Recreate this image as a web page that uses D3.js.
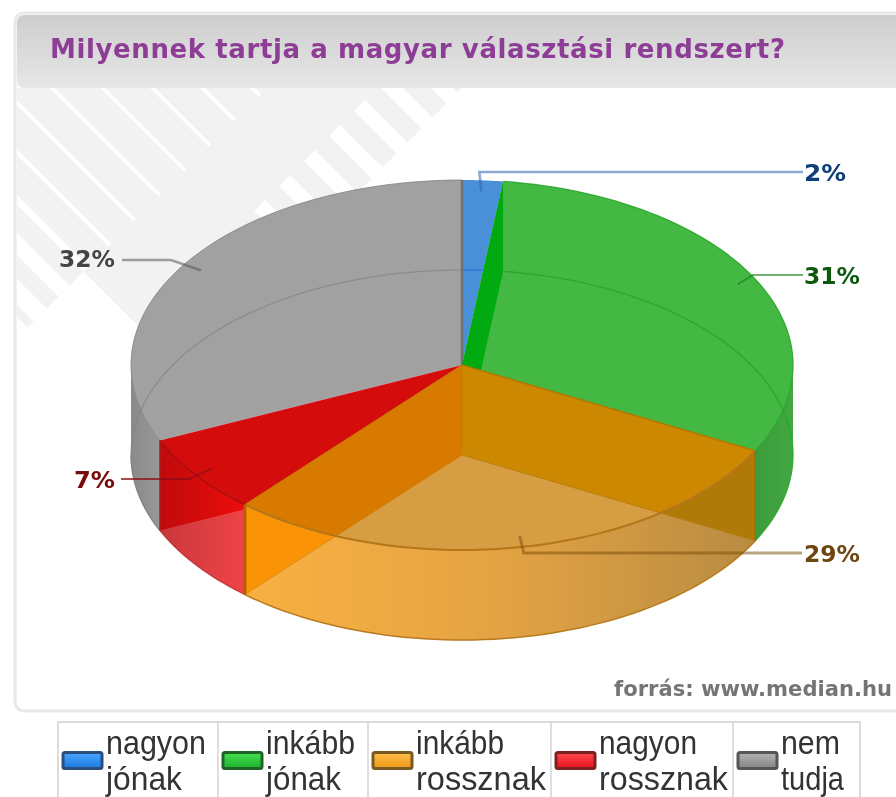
<!DOCTYPE html>
<html><head><meta charset="utf-8">
<script src="https://cdn.jsdelivr.net/npm/d3@7"></script>
<style>html,body{margin:0;padding:0;background:#fff;overflow:hidden}svg{display:block;filter:blur(.6px)}</style>
</head><body><svg id="c" width="896" height="797"></svg>
<script>
const titleText = "Milyennek tartja a magyar választási rendszert?";
const sourceText = "forrás: www.median.hu";
const categories = ["nagyon jónak","inkább jónak","inkább rossznak","nagyon rossznak","nem tudja"];
const values = [2,31,29,7,32];
const legendLines = [["nagyon","jónak"],["inkább","jónak"],["inkább","rossznak"],["nagyon","rossznak"],["nem","tudja"]];
const legendWidths = [[100,76],[89,75],[88,130],[98,129],[59,63]];
const topColors = ["#4a90d9","#43b943","#d69d42","#d40c0c","#9c9c9c"];
const labelColors = ["#0e3f7a","#0b5a0b","#6e4510","#7a0a0a","#444444"];
const swatchStroke = ["#2a4f7c","#1f6426","#7a5a24","#7c2024","#555555"];
const stripeOffsets = [-288,-238,-188,-138,-88,-38,12,62,112,162];
const stripeWidths  = [26,22,10,6,5,5,5,5,5,5];
const blockOffsets = [3,53,103,153,203,253,303,353,403];
const legendEdges = [58,218,368,551,733,860];
const labelPos=[[804,172],[804,275],[804,553],[74,479],[59,258]];
const labelWidths=[42,56,56,41,56];
const leaderStart=[803,803,802,121,122];
const elbowDx=[-2,15,4,-23,-30];
const leaderColors=["#2a64b0","#1c8a1c","#7a4c08","#8c0c18","#555555"];
const leaderOpacity=[.55,.85,.5,.75,.55];
const leaderWidths=[2.6,1.6,3,1.8,2.6];

const svg = d3.select("#c");
const defs = svg.append("defs");
function hGrad(id,stops,x1,x2){
  const g=defs.append("linearGradient").attr("id",id).attr("gradientUnits","userSpaceOnUse")
    .attr("x1",x1).attr("x2",x2).attr("y1",0).attr("y2",0);
  stops.forEach((c,i)=>g.append("stop").attr("offset",i/(stops.length-1)).attr("stop-color",c));
}
function vGrad(id,c0,c1){
  const g=defs.append("linearGradient").attr("id",id).attr("x1",0).attr("x2",0).attr("y1",0).attr("y2",1);
  g.append("stop").attr("offset",0).attr("stop-color",c0);
  g.append("stop").attr("offset",1).attr("stop-color",c1);
}
// Panel
svg.append("rect").attr("x",15).attr("y",13).attr("width",936).attr("height",698).attr("rx",9)
  .attr("fill","#fff").attr("stroke","#e8e8e8").attr("stroke-width",3);
vGrad("hdr","#cdcdcd","#e7e7e7");
defs.append("clipPath").attr("id","hdrClip").append("rect").attr("x",17).attr("y",15).attr("width",900).attr("height",73).attr("rx",7);
svg.append("rect").attr("x",17).attr("y",15).attr("width",900).attr("height",73).attr("fill","url(#hdr)").attr("clip-path","url(#hdrClip)");
// Background pattern, in diagonal coordinates
const diag=(s,c)=>[(s+c)/2,(s-c)/2];
const poly=pts=>"M"+pts.map(p=>p.join(",")).join("L")+"Z";
defs.append("clipPath").attr("id","bodyClip").append("rect").attr("x",17).attr("y",88).attr("width",900).attr("height",622);
const bg=svg.append("g").attr("clip-path","url(#bodyClip)");
bg.append("path").attr("fill","#f2f2f2").attr("d",poly([diag(0,-300),diag(355,-300),diag(355,-188),diag(550,-188),diag(550,500),diag(0,500)]));
bg.selectAll("path.thin").data(stripeOffsets).join("path").attr("class","thin").attr("fill","#fff")
  .attr("d",(c,i)=>poly([diag(0,c),diag(355,c),diag(355,c+stripeWidths[i]),diag(0,c+stripeWidths[i])]));
bg.selectAll("path.block").data(blockOffsets).join("path").attr("class","block").attr("fill","#fff")
  .attr("d",c=>poly([diag(465,c+40),diag(560,c+40),diag(560,c+62),diag(465,c+62)]));

// Title & source
svg.append("text").attr("x",50).attr("y",58).attr("textLength",735).attr("lengthAdjust","spacing")
  .attr("font-family","DejaVu Sans").attr("font-weight","bold").attr("font-size",26).attr("fill","#8e3d96").text(titleText);
svg.append("text").attr("x",614).attr("y",696).attr("textLength",278).attr("lengthAdjust","spacingAndGlyphs")
  .attr("font-family","DejaVu Sans").attr("font-weight","bold").attr("font-size",21).attr("fill","#757575").text(sourceText);

// Pie geometry
const pieGen=d3.pie().sort(null).value(d=>d);
const arcs=pieGen(values);
const xS=d3.scaleLinear().domain([-1,1]).range([131,793]);
const yS=d3.scaleLinear().domain([-1,1]).range([180,550]);
const depth=90;
const P=(a,z,r=1)=>[xS(r*Math.sin(a)),yS(-r*Math.cos(a))+z];
const line=d3.line();
const arcPts=(a0,a1,z)=>d3.range(0,61).map(i=>P(a0+(a1-a0)*i/60,z));
const C=z=>[xS(0),yS(0)+z];
const sector=(a,z)=>line([C(z),...arcPts(a.startAngle,a.endAngle,z),C(z)])+"Z";
const wall=(a0,a1)=>line([...arcPts(a0,a1,0),...arcPts(a1,a0,depth)])+"Z";
const inner=(a)=>line([C(0),P(a,0),P(a,depth),C(depth)])+"Z";
const PI=Math.PI;
const [blue,green,orange,red,gray]=arcs;
const pie=svg.append("g");
const fillP=(d,f,op)=>pie.append("path").attr("d",d).attr("fill",f).attr("fill-opacity",op==null?1:op);
const strokeP=(d,c,w,op)=>pie.append("path").attr("d",d).attr("fill","none").attr("stroke",c).attr("stroke-width",w).attr("stroke-opacity",op==null?1:op);
const arcLine=(a0,a1,z)=>line(arcPts(a0,a1,z));

hGrad("gWall",["#8a8a8a","#9a9a9a"],131,165);
hGrad("gGreen",["#3c9a3c","#42a842"],752,793);
hGrad("rLight",["#c8383c","#f04448"],160,246);
hGrad("rDark",["#c00a0a","#ee0c0c"],160,246);
hGrad("oWall",["#f8b041","#e4a343","#b98c42"],246,752);

// Grey
fillP(wall(3*PI/2,gray.startAngle),"url(#gWall)");
fillP(sector(gray,0),topColors[4],.95);
strokeP(arcLine(gray.startAngle,gray.endAngle,0),"#7f7f7f",1,.8);
strokeP(arcLine(gray.startAngle,gray.endAngle,depth),"#828282",1.2,.7);
strokeP(arcLine(gray.startAngle,3*PI/2,depth),"#7f7f7f",1.2,.8);
// Blue
fillP(sector(blue,0),topColors[0]);
strokeP(arcLine(blue.startAngle,blue.endAngle,depth),"#2f7ad0",1.5);
strokeP(line([C(0),P(0,0)]),"#6a7278",2.5);
// Green
fillP(wall(green.endAngle,PI/2),"url(#gGreen)");
fillP(sector(green,0),topColors[1]);
fillP(inner(green.startAngle),"#00aa10");
strokeP(arcLine(green.startAngle,green.endAngle,depth),"#2aa52a",1.3,.9);
strokeP(arcLine(green.startAngle,green.endAngle,0),"#2aa52a",1.3,.9);
// Red
const redWall=wall(red.startAngle,red.endAngle);
defs.append("clipPath").attr("id","redWallClip").append("path").attr("d",redWall);
fillP(redWall,"url(#rDark)");
fillP(sector(red,depth),"url(#rLight)").attr("clip-path","url(#redWallClip)");
fillP(sector(red,0),topColors[3]);
strokeP(arcLine(red.startAngle,red.endAngle,0),"#a00c10",1.2);
strokeP(line([P(red.endAngle,0),P(red.endAngle,depth)]),"#a02c2c",1.5,.8);
strokeP(arcLine(red.startAngle,red.endAngle,depth),"#b02024",1.2,.6);
// Orange
fillP(wall(orange.startAngle,orange.endAngle),"url(#oWall)");
fillP(sector(orange,0),topColors[2]);
defs.append("clipPath").attr("id","orangeTop").append("path").attr("d",sector(orange,0));
fillP(inner(orange.endAngle),"#fb9306");
fillP(inner(orange.startAngle),"#b07a08");
fillP(inner(orange.endAngle),"#d97a00").attr("clip-path","url(#orangeTop)");
fillP(inner(orange.startAngle),"#cc8800").attr("clip-path","url(#orangeTop)");
strokeP(line([C(0),C(depth)]),"#bf7a00",1,.6);
strokeP(line([C(depth),P(orange.startAngle,depth)]),"#b57d10",1,.7);
strokeP(line([C(depth),P(orange.endAngle,depth)]),"#c07c10",1,.5);
strokeP(arcLine(orange.startAngle,orange.endAngle,0),"#b5761a",2);
strokeP(arcLine(orange.startAngle,orange.endAngle,depth),"#b87a1e",1.5);
strokeP(line([C(0),P(orange.startAngle,0)]),"#b07a00",1.5);
strokeP(line([C(0),P(orange.endAngle,0)]),"#c27000",1);
strokeP(line([P(orange.endAngle,0),P(orange.endAngle,depth)]),"#b06204",3);
strokeP(line([P(orange.startAngle,0),P(orange.startAngle,depth)]),"#9c6c08",1.5);

// Value labels and leaders, each leader ends on the middle of its slice
const midA=a=>(a.startAngle+a.endAngle)/2;
arcs.forEach((a,i)=>{
  const end=P(midA(a),0,.94), ly=labelPos[i][1]+(i==4?2:0);
  svg.append("path").attr("fill","none").attr("stroke",leaderColors[i]).attr("stroke-opacity",leaderOpacity[i]).attr("stroke-width",leaderWidths[i])
    .attr("d",line([[leaderStart[i],ly],[end[0]+elbowDx[i],ly],end]));
  svg.append("text").attr("x",labelPos[i][0]).attr("y",labelPos[i][1]+8.5)
    .attr("font-family","DejaVu Sans").attr("font-weight","bold").attr("font-size",23)
    .attr("fill",labelColors[i]).text(a.data+"%")
    .attr("textLength",labelWidths[i]).attr("lengthAdjust","spacingAndGlyphs");
});

// Legend
vGrad("s0","#4aa6ff","#1c78e0");vGrad("s1","#46e050","#1cb02c");vGrad("s2","#ffbe48","#f09a18");
vGrad("s3","#ff4a50","#e81018");vGrad("s4","#b4b4b4","#848484");
const lg=svg.append("g");
lg.append("rect").attr("x",58).attr("y",722).attr("width",802).attr("height",90).attr("fill","#fff").attr("stroke","#cfcfcf").attr("stroke-width",1.5);
legendEdges.slice(1,-1).forEach(x=>lg.append("line").attr("x1",x).attr("x2",x).attr("y1",722).attr("y2",797).attr("stroke","#d4d4d4").attr("stroke-width",1.5));
categories.forEach((c,i)=>{
  const x0=legendEdges[i];
  lg.append("rect").attr("x",x0+5).attr("y",752.5).attr("width",39).attr("height",16).attr("rx",2)
    .attr("fill",`url(#s${i})`).attr("stroke",swatchStroke[i]).attr("stroke-width",3);
  legendLines[i].forEach((t,j)=>lg.append("text").attr("x",x0+48).attr("y",754+j*36)
    .attr("font-family","Liberation Sans").attr("font-size",33).attr("fill","#333").text(t)
    .attr("textLength",legendWidths[i][j]).attr("lengthAdjust","spacingAndGlyphs"));
});
</script></body></html>
